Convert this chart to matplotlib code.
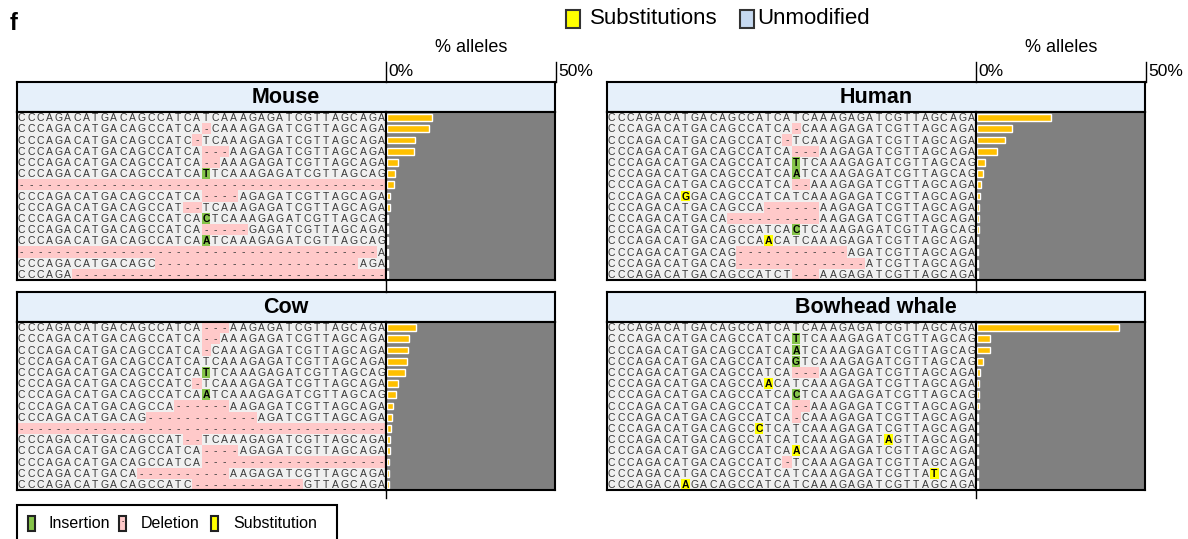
import matplotlib.pyplot as plt
from matplotlib.patches import Rectangle
from matplotlib.lines import Line2D

plt.rcParams['font.family'] = ['Liberation Sans', 'DejaVu Sans']

# allele strings: lowercase = inserted base, [X] = substituted base, '-' = deleted base
mouse_alleles = [
    "CCCAGACATGACAGCCATCATCAAAGAGATCGTTAGCAGA",
    "CCCAGACATGACAGCCATCA-CAAAGAGATCGTTAGCAGA",
    "CCCAGACATGACAGCCATC-TCAAAGAGATCGTTAGCAGA",
    "CCCAGACATGACAGCCATCA---AAGAGATCGTTAGCAGA",
    "CCCAGACATGACAGCCATCA--AAAGAGATCGTTAGCAGA",
    "CCCAGACATGACAGCCATCAtTCAAAGAGATCGTTAGCAG",
    "----------------------------------------",
    "CCCAGACATGACAGCCATCA----AGAGATCGTTAGCAGA",
    "CCCAGACATGACAGCCAT--TCAAAGAGATCGTTAGCAGA",
    "CCCAGACATGACAGCCATCAcTCAAAGAGATCGTTAGCAG",
    "CCCAGACATGACAGCCATCA-----GAGATCGTTAGCAGA",
    "CCCAGACATGACAGCCATCAaTCAAAGAGATCGTTAGCAG",
    "---------------------------------------A",
    "CCCAGACATGACAGC----------------------AGA",
    "CCCAGA----------------------------------",
]
mouse_pct = [13.4, 12.4, 8.3, 8.1, 3.2, 2.4, 2.1, 0.9, 0.9, 0.4, 0.4, 0.4, 0.4, 0.4, 0.3]

cow_alleles = [
    "CCCAGACATGACAGCCATCA---AAGAGATCGTTAGCAGA",
    "CCCAGACATGACAGCCATCA--AAAGAGATCGTTAGCAGA",
    "CCCAGACATGACAGCCATCA-CAAAGAGATCGTTAGCAGA",
    "CCCAGACATGACAGCCATCATCAAAGAGATCGTTAGCAGA",
    "CCCAGACATGACAGCCATCAtTCAAAGAGATCGTTAGCAG",
    "CCCAGACATGACAGCCATC-TCAAAGAGATCGTTAGCAGA",
    "CCCAGACATGACAGCCATCAaTCAAAGAGATCGTTAGCAG",
    "CCCAGACATGACAGCCA------AAGAGATCGTTAGCAGA",
    "CCCAGACATGACAG------------AGATCGTTAGCAGA",
    "----------------------------------------",
    "CCCAGACATGACAGCCAT--TCAAAGAGATCGTTAGCAGA",
    "CCCAGACATGACAGCCATCA----AGAGATCGTTAGCAGA",
    "CCCAGACATGACAGCCATCA--------------------",
    "CCCAGACATGACA----------AAGAGATCGTTAGCAGA",
    "CCCAGACATGACAGCCATC------------GTTAGCAGA",
]
cow_pct = [8.5, 6.5, 6.3, 6.0, 5.5, 3.2, 2.6, 1.7, 1.4, 1.1, 1.0, 0.8, 0.5, 0.5, 0.5]

human_alleles = [
    "CCCAGACATGACAGCCATCATCAAAGAGATCGTTAGCAGA",
    "CCCAGACATGACAGCCATCA-CAAAGAGATCGTTAGCAGA",
    "CCCAGACATGACAGCCATC-TCAAAGAGATCGTTAGCAGA",
    "CCCAGACATGACAGCCATCA---AAGAGATCGTTAGCAGA",
    "CCCAGACATGACAGCCATCAtTCAAAGAGATCGTTAGCAG",
    "CCCAGACATGACAGCCATCAaTCAAAGAGATCGTTAGCAG",
    "CCCAGACATGACAGCCATCA--AAAGAGATCGTTAGCAGA",
    "CCCAGACA[G]GACAGCCATCATCAAAGAGATCGTTAGCAGA",
    "CCCAGACATGACAGCCA------AAGAGATCGTTAGCAGA",
    "CCCAGACATGACA----------AAGAGATCGTTAGCAGA",
    "CCCAGACATGACAGCCATCAcTCAAAGAGATCGTTAGCAG",
    "CCCAGACATGACAGCCA[A]CATCAAAGAGATCGTTAGCAGA",
    "CCCAGACATGACAG------------AGATCGTTAGCAGA",
    "CCCAGACATGACAG--------------ATCGTTAGCAGA",
    "CCCAGACATGACAGCCATCT---AAGAGATCGTTAGCAGA",
]
human_pct = [22.0, 10.3, 8.2, 5.9, 2.4, 1.8, 1.2, 0.9, 0.5, 0.5, 0.5, 0.4, 0.4, 0.4, 0.4]

whale_alleles = [
    "CCCAGACATGACAGCCATCATCAAAGAGATCGTTAGCAGA",
    "CCCAGACATGACAGCCATCAtTCAAAGAGATCGTTAGCAG",
    "CCCAGACATGACAGCCATCAaTCAAAGAGATCGTTAGCAG",
    "CCCAGACATGACAGCCATCAgTCAAAGAGATCGTTAGCAG",
    "CCCAGACATGACAGCCATCA---AAGAGATCGTTAGCAGA",
    "CCCAGACATGACAGCCA[A]CATCAAAGAGATCGTTAGCAGA",
    "CCCAGACATGACAGCCATCAcTCAAAGAGATCGTTAGCAG",
    "CCCAGACATGACAGCCATCA--AAAGAGATCGTTAGCAGA",
    "CCCAGACATGACAGCCATCA-CAAAGAGATCGTTAGCAGA",
    "CCCAGACATGACAGCC[C]TCATCAAAGAGATCGTTAGCAGA",
    "CCCAGACATGACAGCCATCATCAAAGAGAT[A]GTTAGCAGA",
    "CCCAGACATGACAGCCATCA[A]CAAAGAGATCGTTAGCAGA",
    "CCCAGACATGACAGCCATC-TCAAAGAGATCGTTAGCAGA",
    "CCCAGACATGACAGCCATCATCAAAGAGATCGTTA[T]CAGA",
    "CCCAGACA[A]GACAGCCATCATCAAAGAGATCGTTAGCAGA",
]
whale_pct = [42.4, 3.8, 3.8, 1.8, 0.9, 0.5, 0.5, 0.5, 0.4, 0.4, 0.4, 0.4, 0.4, 0.4, 0.4]

W, H = 1188, 539
fig = plt.figure(figsize=(W / 100, H / 100), dpi=100)

PINK = '#ffc9c9'
GREEN = '#86c44a'
YELLOW = '#ffff00'
GOLD = '#ffc000'
TITLEBG = '#e6f0fa'


def box(x0, y0, x1, y1):
    return [x0 / W, 1 - y1 / H, (x1 - x0) / W, (y1 - y0) / H]


def ftext(x, y, s, **kw):
    fig.text(x / W, 1 - y / H, s, **kw)


def vline(x, y0, y1, lw=1):
    fig.add_artist(Line2D([x / W, x / W], [1 - y0 / H, 1 - y1 / H], color='black', lw=lw))


def frect(x0, y0, x1, y1, **kw):
    fig.add_artist(Rectangle((x0 / W, 1 - y1 / H), (x1 - x0) / W, (y1 - y0) / H,
                             transform=fig.transFigure, **kw))


def parse(s):
    bases, kinds = [], []
    i = 0
    while i < len(s):
        c = s[i]
        if c == '[':
            bases.append(s[i + 1])
            kinds.append('S')
            i += 3
            continue
        if c == '-':
            bases.append('-')
            kinds.append('D')
        elif c.islower():
            bases.append(c.upper())
            kinds.append('I')
        else:
            bases.append(c)
            kinds.append('')
        i += 1
    return bases, kinds


def clean(ax, lw=1.5):
    ax.set_xticks([])
    ax.set_yticks([])
    for sp in ax.spines.values():
        sp.set_linewidth(lw)


def draw_panel(title, alleles, pct, x0, y0):
    xs = x0 + 369
    x1 = x0 + 538
    ax_t = fig.add_axes(box(x0, y0, x1, y0 + 30))
    ax_t.set_facecolor(TITLEBG)
    clean(ax_t)
    ax_t.text(0.5, 0.47, title, ha='center', va='center', fontsize=15.5,
              fontweight='bold', transform=ax_t.transAxes)

    n = len(alleles)
    ax_s = fig.add_axes(box(x0, y0 + 30, xs, y0 + 198))
    ax_s.set_facecolor('#f0f0f0')
    ax_s.set_xlim(0, 40)
    ax_s.set_ylim(n, 0)
    clean(ax_s)
    for r, s in enumerate(alleles):
        bases, kinds = parse(s)
        for c, (b, k) in enumerate(zip(bases, kinds)):
            if k == 'D':
                ax_s.add_patch(Rectangle((c, r), 1, 1, color=PINK, lw=0))
            elif k == 'I':
                ax_s.add_patch(Rectangle((c + 0.05, r + 0.02), 0.9, 0.96, color=GREEN, lw=0))
            elif k == 'S':
                ax_s.add_patch(Rectangle((c + 0.05, r + 0.02), 0.9, 0.96, color=YELLOW, lw=0))
            bold = k in ('I', 'S')
            ax_s.text(c + 0.5, r + 0.55, b, ha='center', va='center', fontsize=7.5,
                      color='black' if bold else '#383838',
                      fontweight='bold' if bold else 'normal')

    ax_b = fig.add_axes(box(xs, y0 + 30, x1, y0 + 198))
    ax_b.set_facecolor('#808080')
    ax_b.set_xlim(-0.3, 50)
    ax_b.set_ylim(n - 0.5, -0.5)
    clean(ax_b)
    ax_b.barh(range(n), pct, height=0.62, color=GOLD, edgecolor='white', lw=1)


draw_panel("Mouse", mouse_alleles, mouse_pct, 17, 82)
draw_panel("Cow", cow_alleles, cow_pct, 17, 292)
draw_panel("Human", human_alleles, human_pct, 607, 82)
draw_panel("Bowhead whale", whale_alleles, whale_pct, 607, 292)

# percent axis headers
for xa in (386, 976):
    ftext(xa + 85, 48, "% alleles", ha='center', va='center', fontsize=13)
    ftext(xa + 2, 72, "0%", ha='left', va='center', fontsize=12.5)
    ftext(xa + 172, 72, "50%", ha='left', va='center', fontsize=12.5)
    vline(xa, 62, 82)
    vline(xa + 170, 62, 82)
    vline(xa, 280, 292)
    vline(xa, 490, 498)

ftext(10, 23, "f", ha='left', va='center', fontsize=17, fontweight='bold')

# top legend
frect(566, 10, 580, 28, fc=YELLOW, ec='#333333', lw=1.5)
ftext(590, 19, "Substitutions", ha='left', va='center', fontsize=16)
frect(740, 10, 754, 28, fc='#c6d9f0', ec='#333333', lw=1.5)
ftext(757, 19, "Unmodified", ha='left', va='center', fontsize=16)

# bottom legend
frect(17, 505, 337, 548, fc='white', ec='black', lw=1.5)
frect(28, 516, 35, 531, fc=GREEN, ec='#222222', lw=1.5)
ftext(48, 523, "Insertion", ha='left', va='center', fontsize=11.5)
frect(119, 516, 126, 531, fc=PINK, ec='#222222', lw=1.5)
ftext(122.5, 522, "-", ha='center', va='center', fontsize=5)
ftext(141, 523, "Deletion", ha='left', va='center', fontsize=11.5)
frect(211, 516, 218, 531, fc=YELLOW, ec='#222222', lw=1.5)
ftext(233, 523, "Substitution", ha='left', va='center', fontsize=11.5)

fig.savefig("out.png", dpi=100)
